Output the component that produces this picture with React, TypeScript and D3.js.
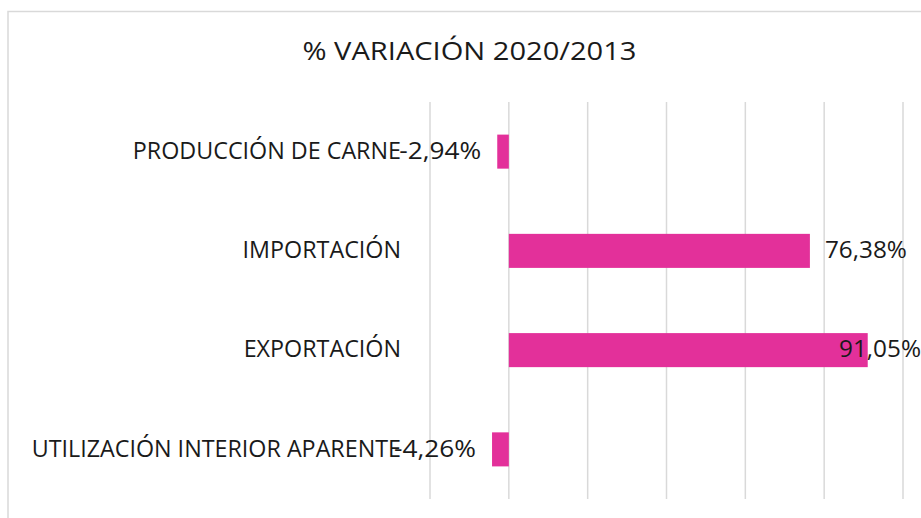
import React from "react";
import * as d3 from "d3";

const categories: string[] = [
  "PRODUCCIÓN DE CARNE",
  "IMPORTACIÓN",
  "EXPORTACIÓN",
  "UTILIZACIÓN INTERIOR APARENTE",
];
const values: number[] = [-2.94, 76.38, 91.05, -4.26];
const xTicks: number[] = [-20, 0, 20, 40, 60, 80, 100];
const title = "% VARIACIÓN 2020/2013";

const W = 921;
const H = 518;
const FONT = "'Open Sans', 'Noto Sans', sans-serif";
const BAR = "#e3309a";
const GRID = "#d9d9d9";
const TEXT = "#1a1a1a";

const frame = { left: 8, top: 11.5, right: 921 };
const plot = { left: 430, right: 903, top: 102, bottom: 499 };

const fmt = (v: number) => v.toFixed(2).replace(".", ",") + "%";

export default function App() {
  const x = d3.scaleLinear().domain([-20, 100]).range([plot.left, plot.right]);
  const y = d3
    .scaleBand<string>()
    .domain(categories)
    .range([plot.top, plot.bottom])
    .paddingInner(0.657)
    .paddingOuter(0.657 / 2);

  const labelFs = 23.3;
  const capOff = 7.2;
  const gap = 15;
  const valueW = 82;

  return (
    <svg
      width={W}
      height={H}
      style={{ position: "absolute", left: 0, top: 0, background: "#fff" }}
      fontFamily={FONT}
    >
      <rect x={0} y={0} width={W} height={H} fill="#fff" />
      {/* chart frame */}
      <path
        d={`M${frame.left},${H + 5} V${frame.top} H${W + 5}`}
        fill="none"
        stroke={GRID}
        strokeWidth={1.5}
      />
      {/* title */}
      <text
        x={469.5}
        y={59.5}
        textAnchor="middle"
        fontSize={25.5}
        fill={TEXT}
        textLength={334}
        lengthAdjust="spacingAndGlyphs"
      >
        {title}
      </text>
      {/* gridlines */}
      {xTicks.map((t) => (
        <line
          key={t}
          x1={x(t)}
          x2={x(t)}
          y1={plot.top}
          y2={plot.bottom}
          stroke={GRID}
          strokeWidth={1.5}
        />
      ))}
      {/* bars */}
      {categories.map((c, i) => {
        const v = values[i];
        const x0 = x(Math.min(0, v));
        const x1 = x(Math.max(0, v));
        return (
          <rect
            key={c}
            x={x0}
            y={y(c)!}
            width={x1 - x0}
            height={y.bandwidth()}
            fill={BAR}
          />
        );
      })}
      {/* category labels */}
      {categories.map((c) => (
        <text
          key={c}
          x={401}
          y={y(c)! + y.bandwidth() / 2 + capOff}
          textAnchor="end"
          fontSize={labelFs}
          fill={TEXT}
        >
          {c}
        </text>
      ))}
      {/* value labels */}
      {categories.map((c, i) => {
        const v = values[i];
        const cy = y(c)! + y.bandwidth() / 2 + capOff;
        const endX =
          v < 0
            ? x(v) - gap - 1
            : Math.min(x(v) + gap + valueW, frame.right);
        return (
          <text
            key={c}
            x={endX - valueW}
            y={cy}
            textAnchor="start"
            fontSize={labelFs}
            fill={TEXT}
            textLength={valueW}
            lengthAdjust="spacingAndGlyphs"
          >
            {fmt(v)}
          </text>
        );
      })}
    </svg>
  );
}
